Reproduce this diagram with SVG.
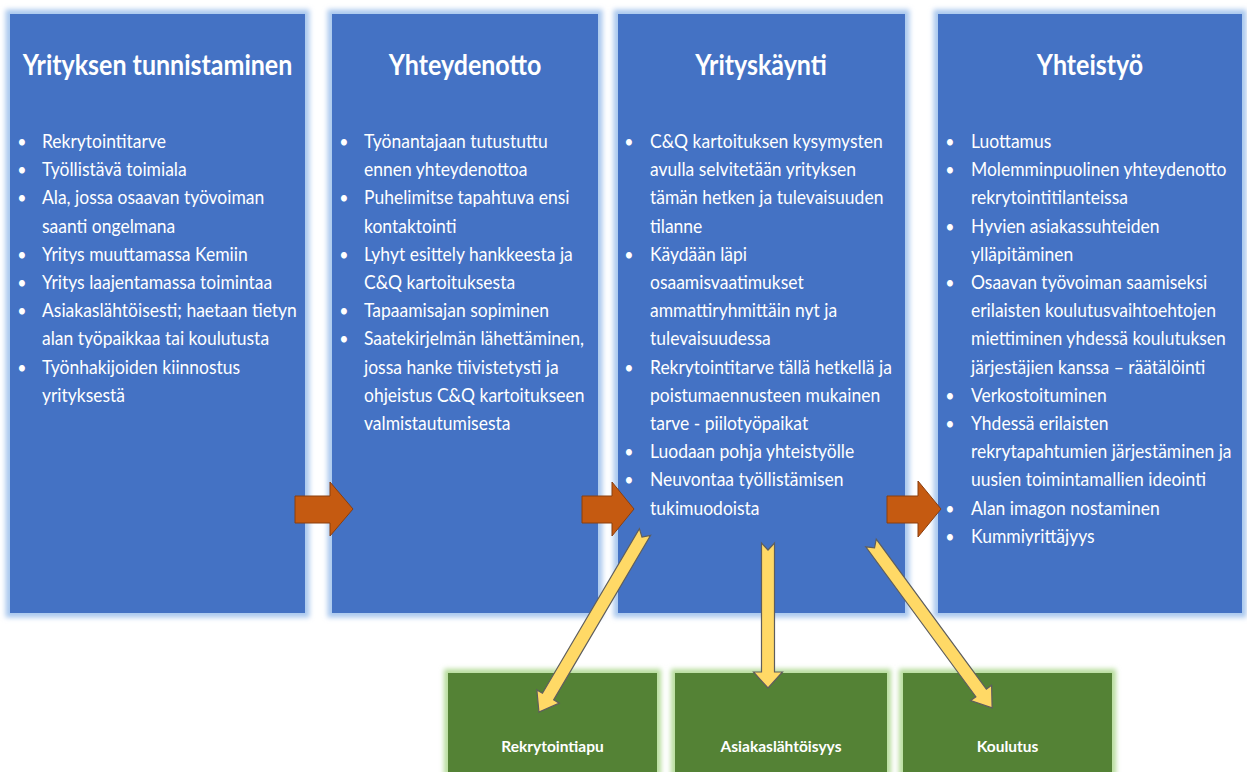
<svg xmlns="http://www.w3.org/2000/svg" width="1247" height="772" viewBox="0 0 1247 772">
<style>
.bg{fill:#ffffff}
.box{fill:#4472C4}
.bglow{fill:none;stroke:#A9C8EE;stroke-width:9;filter:url(#blur)}
.gbox{fill:#548235}
.gglow{fill:none;stroke:#B5DC9A;stroke-width:8;filter:url(#blur)}
.title{font-family:Lato,"Liberation Sans",sans-serif;font-weight:bold;font-size:25px;fill:#ffffff;text-anchor:middle}
.body{font-family:Lato,"Liberation Sans",sans-serif;font-size:17.5px;fill:#ffffff}
.bul{font-family:Lato,"Liberation Sans",sans-serif;font-size:16px;fill:#ffffff;text-anchor:middle}
.glabel{font-family:Lato,"Liberation Sans",sans-serif;font-weight:bold;font-size:15.5px;fill:#ffffff;text-anchor:middle}
.orange{fill:#C55A11;stroke:#8A3E0E;stroke-width:1}
.yellow{fill:#FFD966;stroke:#5E5E5E;stroke-width:1.2;stroke-linejoin:miter}
</style>
<defs>
<filter id="blur" x="-10%" y="-10%" width="120%" height="120%"><feGaussianBlur stdDeviation="2.5"/></filter>
</defs>
<rect class="bg" x="0" y="0" width="1247" height="772"/>

<g id="node-tunnistaminen">
<rect class="bglow" x="10" y="14" width="295" height="599"/>
<rect class="box" x="10" y="14" width="295" height="599"/>
<g transform="translate(0,75) scale(1,1.12) translate(0,-75)"><text class="title" x="157.5" y="75">Yrityksen tunnistaminen</text></g>
<g transform="translate(0,148) scale(1,1.12) translate(0,-148)">
<text class="bul"><tspan x="22" y="148">•</tspan><tspan x="22" y="173.18">•</tspan><tspan x="22" y="198.36">•</tspan><tspan x="22" y="248.71">•</tspan><tspan x="22" y="273.89">•</tspan><tspan x="22" y="299.07">•</tspan><tspan x="22" y="349.43">•</tspan></text>
<text class="body"><tspan x="42" y="148">Rekrytointitarve</tspan><tspan x="42" y="173.18">Työllistävä toimiala</tspan><tspan x="42" y="198.36">Ala, jossa osaavan työvoiman</tspan><tspan x="42" y="223.54">saanti ongelmana</tspan><tspan x="42" y="248.71">Yritys muuttamassa Kemiin</tspan><tspan x="42" y="273.89">Yritys laajentamassa toimintaa</tspan><tspan x="42" y="299.07">Asiakaslähtöisesti;  haetaan tietyn</tspan><tspan x="42" y="324.25">alan työpaikkaa tai koulutusta</tspan><tspan x="42" y="349.43">Työnhakijoiden kiinnostus</tspan><tspan x="42" y="374.61">yrityksestä</tspan></text>
</g>
</g>

<g id="node-yhteydenotto">
<rect class="bglow" x="332" y="14" width="266" height="599"/>
<rect class="box" x="332" y="14" width="266" height="599"/>
<g transform="translate(0,75) scale(1,1.12) translate(0,-75)"><text class="title" x="465" y="75">Yhteydenotto</text></g>
<g transform="translate(0,148) scale(1,1.12) translate(0,-148)">
<text class="bul"><tspan x="344" y="148">•</tspan><tspan x="344" y="198.36">•</tspan><tspan x="344" y="248.71">•</tspan><tspan x="344" y="299.07">•</tspan><tspan x="344" y="324.25">•</tspan></text>
<text class="body"><tspan x="364" y="148">Työnantajaan tutustuttu</tspan><tspan x="364" y="173.18">ennen yhteydenottoa</tspan><tspan x="364" y="198.36">Puhelimitse tapahtuva ensi</tspan><tspan x="364" y="223.54">kontaktointi</tspan><tspan x="364" y="248.71">Lyhyt esittely hankkeesta ja</tspan><tspan x="364" y="273.89">C&amp;Q kartoituksesta</tspan><tspan x="364" y="299.07">Tapaamisajan sopiminen</tspan><tspan x="364" y="324.25">Saatekirjelmän lähettäminen,</tspan><tspan x="364" y="349.43">jossa hanke tiivistetysti ja</tspan><tspan x="364" y="374.61">ohjeistus C&amp;Q kartoitukseen</tspan><tspan x="364" y="399.79">valmistautumisesta</tspan></text>
</g>
</g>

<g id="node-yrityskaynti">
<rect class="bglow" x="618" y="14" width="287" height="599"/>
<rect class="box" x="618" y="14" width="287" height="599"/>
<g transform="translate(0,75) scale(1,1.12) translate(0,-75)"><text class="title" x="761" y="75">Yrityskäynti</text></g>
<g transform="translate(0,148) scale(1,1.12) translate(0,-148)">
<text class="bul"><tspan x="629" y="148">•</tspan><tspan x="629" y="248.71">•</tspan><tspan x="629" y="349.43">•</tspan><tspan x="629" y="424.96">•</tspan><tspan x="629" y="450.14">•</tspan></text>
<text class="body"><tspan x="650" y="148">C&amp;Q kartoituksen kysymysten</tspan><tspan x="650" y="173.18">avulla selvitetään yrityksen</tspan><tspan x="650" y="198.36">tämän hetken ja tulevaisuuden</tspan><tspan x="650" y="223.54">tilanne</tspan><tspan x="650" y="248.71">Käydään läpi</tspan><tspan x="650" y="273.89">osaamisvaatimukset</tspan><tspan x="650" y="299.07">ammattiryhmittäin nyt ja</tspan><tspan x="650" y="324.25">tulevaisuudessa</tspan><tspan x="650" y="349.43">Rekrytointitarve tällä hetkellä ja</tspan><tspan x="650" y="374.61">poistumaennusteen mukainen</tspan><tspan x="650" y="399.79">tarve  - piilotyöpaikat</tspan><tspan x="650" y="424.96">Luodaan pohja yhteistyölle</tspan><tspan x="650" y="450.14">Neuvontaa työllistämisen</tspan><tspan x="650" y="475.32">tukimuodoista</tspan></text>
</g>
</g>

<g id="node-yhteistyo">
<rect class="bglow" x="938" y="14" width="304" height="599"/>
<rect class="box" x="938" y="14" width="304" height="599"/>
<g transform="translate(0,75) scale(1,1.12) translate(0,-75)"><text class="title" x="1090" y="75">Yhteistyö</text></g>
<g transform="translate(0,148) scale(1,1.12) translate(0,-148)">
<text class="bul"><tspan x="950" y="148">•</tspan><tspan x="950" y="173.18">•</tspan><tspan x="950" y="223.54">•</tspan><tspan x="950" y="273.89">•</tspan><tspan x="950" y="374.61">•</tspan><tspan x="950" y="399.79">•</tspan><tspan x="950" y="475.32">•</tspan><tspan x="950" y="500.5">•</tspan></text>
<text class="body"><tspan x="971" y="148">Luottamus</tspan><tspan x="971" y="173.18">Molemminpuolinen yhteydenotto</tspan><tspan x="971" y="198.36">rekrytointitilanteissa</tspan><tspan x="971" y="223.54">Hyvien asiakassuhteiden</tspan><tspan x="971" y="248.71">ylläpitäminen</tspan><tspan x="971" y="273.89">Osaavan työvoiman saamiseksi</tspan><tspan x="971" y="299.07">erilaisten koulutusvaihtoehtojen</tspan><tspan x="971" y="324.25">miettiminen yhdessä koulutuksen</tspan><tspan x="971" y="349.43">järjestäjien kanssa – räätälöinti</tspan><tspan x="971" y="374.61">Verkostoituminen</tspan><tspan x="971" y="399.79">Yhdessä erilaisten</tspan><tspan x="971" y="424.96">rekrytapahtumien järjestäminen ja</tspan><tspan x="971" y="450.14">uusien toimintamallien ideointi</tspan><tspan x="971" y="475.32">Alan imagon nostaminen</tspan><tspan x="971" y="500.5">Kummiyrittäjyys</tspan></text>
</g>
</g>

<g id="node-rekrytointiapu">
<rect class="gglow" x="448" y="673" width="209" height="110"/>
<rect class="gbox" x="448" y="673" width="209" height="110"/>
<text class="glabel" x="552.5" y="752">Rekrytointiapu</text>
</g>
<g id="node-asiakaslahtoisyys">
<rect class="gglow" x="675" y="673" width="212" height="110"/>
<rect class="gbox" x="675" y="673" width="212" height="110"/>
<text class="glabel" x="781" y="752">Asiakaslähtöisyys</text>
</g>
<g id="node-koulutus">
<rect class="gglow" x="903" y="673" width="209" height="110"/>
<rect class="gbox" x="903" y="673" width="209" height="110"/>
<text class="glabel" x="1007.5" y="752">Koulutus</text>
</g>

<g id="connectors">
<polygon class="orange" points="295,496 330,496 330,482 353,509 330,536 330,523 295,523"/>
<polygon class="orange" points="582,496 612,496 612,482 634,509 612,536 612,523 582,523"/>
<polygon class="orange" points="887,496 918,496 918,481 941,509 918,537 918,523 887,523"/>
<polygon class="yellow" transform="translate(645,532) rotate(120.5)" points="0,-6.5 191,-6.5 191,-13 209,0 191,13 191,6.5 0,6.5 6,0"/>
<polygon class="yellow" transform="translate(768,543) rotate(90)" points="0,-6.5 129,-6.5 129,-14.5 145,0 129,14.5 129,6.5 0,6.5 7,0"/>
<polygon class="yellow" transform="translate(871,543) rotate(53.7)" points="0,-6.5 186,-6.5 186,-13 204.6,0 186,13 186,6.5 0,6.5 6,0"/>
</g>
</svg>
